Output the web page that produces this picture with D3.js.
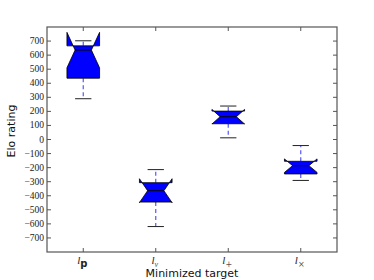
<!DOCTYPE html>
<html>
<head>
<meta charset="utf-8">
<script src="https://cdn.jsdelivr.net/npm/d3@7"></script>
<style>
  body { margin: 0; background: #fff; }
  svg { display: block; }
</style>
</head>
<body>
<svg id="chart" width="374" height="280"></svg>
<script>
// values
const categories = ["p", "v", "+", "×"];
const whiskerLow = [290, -619, 12, -291];
const q1 = [436, -445, 112, -245];
const notchLow = [510, -449, 110, -234];
const median = [636, -364, 162, -186];
const notchHigh = [762, -279, 214, -138];
const q3 = [666, -307, 202, -155];
const whiskerHigh = [702, -214, 238, -43];
const yTicks = d3.range(-700, 701, 100);

const margin = { top: 27, right: 37, bottom: 28, left: 47 };
const width = 374;
const height = 280;
const innerWidth = width - margin.left - margin.right;
const innerHeight = height - margin.top - margin.bottom;

const svg = d3.select("#chart");

var xScale = d3.scaleLinear()
  .domain([0.5, 4.5])
  .range([margin.left, margin.left + innerWidth]);

var yScale = d3.scaleLinear()
  .domain([-800, 800])
  .range([margin.top + innerHeight, margin.top]);

const boxW = 0.45;
const data = categories.map((c, i) => ({
  pos: i + 1, lo: whiskerLow[i], q1: q1[i], nlo: notchLow[i], med: median[i],
  nhi: notchHigh[i], q3: q3[i], hi: whiskerHigh[i]
}));

// whiskers
const whiskers = svg.append("g");
data.forEach(d => {
  [[d.q1, d.lo], [d.q3, d.hi]].forEach(([a, b]) => {
    whiskers.append("line")
      .attr("x1", xScale(d.pos)).attr("x2", xScale(d.pos))
      .attr("y1", yScale(a)).attr("y2", yScale(b))
      .attr("stroke", "#5555ff")
      .attr("stroke-width", 1.2)
      .attr("stroke-dasharray", "4,3");
  });
});

// notched boxes
const boxes = svg.append("g");
data.forEach(d => {
  const l = d.pos - boxW / 2, r = d.pos + boxW / 2;
  const nl = d.pos - boxW / 4, nr = d.pos + boxW / 4;
  const pts = [
    [l, d.q1], [l, d.nlo], [nl, d.med], [l, d.nhi], [l, d.q3],
    [r, d.q3], [r, d.nhi], [nr, d.med], [r, d.nlo], [r, d.q1]
  ];
  boxes.append("path")
    .attr("d", d3.line().x(p => xScale(p[0])).y(p => yScale(p[1]))(pts) + "Z")
    .attr("fill", "#0000ff")
    .attr("stroke", "#000")
    .attr("stroke-width", 0.8);
  boxes.append("line")
    .attr("x1", xScale(nl)).attr("x2", xScale(nr))
    .attr("y1", yScale(d.med)).attr("y2", yScale(d.med))
    .attr("stroke", "#000")
    .attr("stroke-width", 1);
});

// caps
const caps = svg.append("g");
data.forEach(d => {
  [d.lo, d.hi].forEach(v => {
    caps.append("line")
      .attr("x1", xScale(d.pos - boxW / 4)).attr("x2", xScale(d.pos + boxW / 4))
      .attr("y1", yScale(v)).attr("y2", yScale(v))
      .attr("stroke", "#222")
      .attr("stroke-width", 1);
  });
});

// frame
const axisColor = "#555";
svg.append("rect")
  .attr("x", margin.left).attr("y", margin.top)
  .attr("width", innerWidth).attr("height", innerHeight)
  .attr("fill", "none")
  .attr("stroke", axisColor)
  .attr("stroke-width", 1.2);

// y ticks (inside, both sides)
const ticks = svg.append("g").attr("stroke", axisColor).attr("stroke-width", 1);
yTicks.forEach(t => {
  ticks.append("line")
    .attr("x1", margin.left).attr("x2", margin.left + 4)
    .attr("y1", yScale(t)).attr("y2", yScale(t));
  ticks.append("line")
    .attr("x1", margin.left + innerWidth).attr("x2", margin.left + innerWidth - 4)
    .attr("y1", yScale(t)).attr("y2", yScale(t));
});
data.forEach(d => {
  ticks.append("line")
    .attr("x1", xScale(d.pos)).attr("x2", xScale(d.pos))
    .attr("y1", margin.top + innerHeight).attr("y2", margin.top + innerHeight - 4);
  ticks.append("line")
    .attr("x1", xScale(d.pos)).attr("x2", xScale(d.pos))
    .attr("y1", margin.top).attr("y2", margin.top + 4);
});

// y tick labels
svg.append("g")
  .selectAll("text")
  .data(yTicks)
  .join("text")
  .attr("x", margin.left - 3)
  .attr("y", d => yScale(d) + 3)
  .attr("text-anchor", "end")
  .attr("font-family", "Liberation Serif, serif")
  .attr("font-size", 9.5)
  .attr("fill", "#222")
  .text(d => d < 0 ? "\u2212" + Math.abs(d) : d);

// x tick labels
const xl = svg.append("g");
data.forEach((d, i) => {
  const t = xl.append("text")
    .attr("x", xScale(d.pos) - 1)
    .attr("y", margin.top + innerHeight + 12)
    .attr("text-anchor", "middle")
    .attr("fill", "#222");
  t.append("tspan")
    .attr("font-family", "Liberation Serif, serif")
    .attr("font-style", "italic")
    .attr("font-size", 11)
    .text("l");
  const sub = t.append("tspan").attr("dy", 3);
  if (categories[i] === "p") {
    sub.attr("font-family", "DejaVu Sans, sans-serif").attr("font-weight", "bold").attr("font-size", 10);
  } else if (categories[i] === "v") {
    sub.attr("font-family", "Liberation Serif, serif").attr("font-style", "italic").attr("font-size", 8).attr("fill", "#555");
  } else {
    sub.attr("font-family", "DejaVu Sans, sans-serif").attr("font-size", 8).attr("fill", "#555");
  }
  sub.text(categories[i]);
});

// axis labels
svg.append("text")
  .attr("x", margin.left + innerWidth / 2)
  .attr("y", 277)
  .attr("text-anchor", "middle")
  .attr("font-family", "DejaVu Sans, sans-serif")
  .attr("font-size", 11)
  .attr("fill", "#111")
  .text("Minimized target");

svg.append("text")
  .attr("transform", "translate(15,131) rotate(-90)")
  .attr("text-anchor", "middle")
  .attr("font-family", "DejaVu Sans, sans-serif")
  .attr("font-size", 11)
  .attr("fill", "#111")
  .text("Elo rating");
</script>
</body>
</html>
